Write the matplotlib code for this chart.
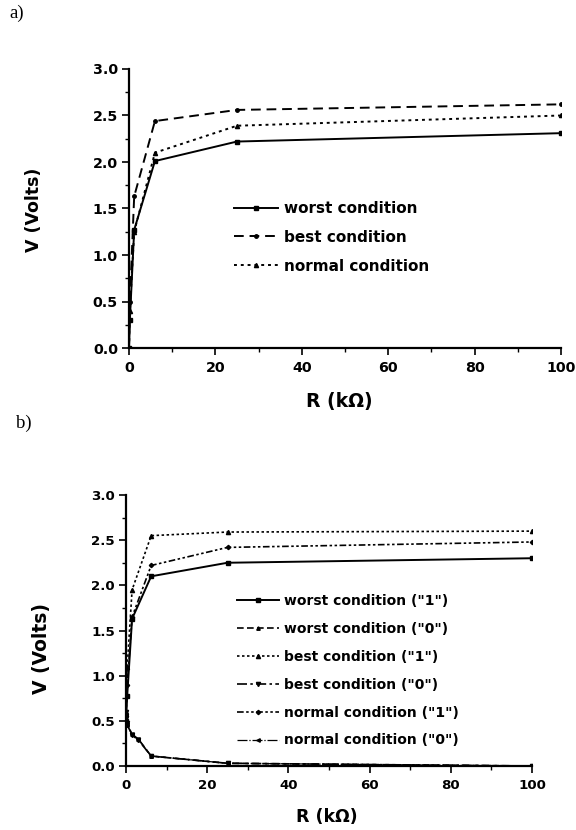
import matplotlib
matplotlib.use("Agg")
import matplotlib.pyplot as plt
from matplotlib.ticker import MultipleLocator

plt.rcParams['font.family'] = ['DejaVu Sans']

# ---- panel a data ----
R_a = [0, 0.2, 1.2, 6, 25, 100]
worst_a = [0.0, 0.3, 1.27, 2.01, 2.22, 2.31]
best_a = [0.0, 0.5, 1.63, 2.44, 2.56, 2.62]
normal_a = [0.0, 0.4, 1.25, 2.10, 2.39, 2.50]
labels_a = ["worst condition", "best condition", "normal condition"]

# ---- panel b data ----
R_b1 = [0, 0.3, 1.5, 6.2, 25, 100]
worst1_b = [0.50, 0.78, 1.63, 2.10, 2.25, 2.30]
best1_b = [0.60, 1.10, 1.95, 2.55, 2.59, 2.60]
normal1_b = [0.55, 0.90, 1.65, 2.22, 2.42, 2.48]
R_b0 = [0, 0.3, 1.5, 3, 6.2, 25, 100]
worst0_b = [0.55, 0.45, 0.35, 0.30, 0.11, 0.03, 0.00]
best0_b = [0.60, 0.48, 0.34, 0.29, 0.11, 0.03, 0.00]
normal0_b = [0.57, 0.46, 0.35, 0.30, 0.11, 0.03, 0.00]
labels_b = ['worst condition ("1")', 'worst condition ("0")', 'best condition ("1")',
            'best condition ("0")', 'normal condition ("1")', 'normal condition ("0")']

xticks = [0, 20, 40, 60, 80, 100]
yticks = [0.0, 0.5, 1.0, 1.5, 2.0, 2.5, 3.0]

W, H = 576, 830
fig = plt.figure(figsize=(W / 100, H / 100), dpi=100)

def px_axes(l, r, t, b):
    return fig.add_axes([l / W, 1 - b / H, (r - l) / W, (b - t) / H])

ax1 = px_axes(129, 561, 69, 348)
ax2 = px_axes(126, 532, 495, 766)

def style(ax, tsize):
    ax.set_xlim(0, 100)
    ax.set_ylim(0, 3.0)
    ax.spines['top'].set_visible(False)
    ax.spines['right'].set_visible(False)
    for s in ('left', 'bottom'):
        ax.spines[s].set_linewidth(1.6)
    ax.set_xticks(xticks)
    ax.set_yticks(yticks)
    ax.set_yticklabels([f"{v:.1f}" for v in yticks])
    ax.xaxis.set_minor_locator(MultipleLocator(10))
    ax.yaxis.set_minor_locator(MultipleLocator(0.25))
    ax.tick_params(which='major', direction='out', length=5, width=1.2,
                   labelsize=tsize)
    ax.tick_params(axis='x', which='major', pad=4)
    ax.tick_params(axis='y', which='major', pad=3)
    ax.tick_params(which='minor', direction='out', length=3, width=1.0)
    for lab in ax.get_xticklabels() + ax.get_yticklabels():
        lab.set_fontweight('bold')

ax1.plot(R_a, worst_a, color='black', lw=1.4, ls='-', marker='s', ms=2.5, label=labels_a[0])
ax1.plot(R_a, best_a, color='black', lw=1.4, ls=(0, (5, 3)), marker='o', ms=2.5, label=labels_a[1])
ax1.plot(R_a, normal_a, color='black', lw=1.4, ls=(0, (1.5, 2)), marker='^', ms=3, label=labels_a[2])
style(ax1, 10.3)
ax1.legend(loc='upper left', bbox_to_anchor=(234 / W, 1 - 201 / H), bbox_transform=fig.transFigure,
           frameon=False, borderpad=0, borderaxespad=0, handlelength=2.9,
           handletextpad=0.4, labelspacing=0.9, prop={'weight': 'bold', 'size': 11})

ax2.plot(R_b1, worst1_b, color='black', lw=1.4, ls='-', marker='s', ms=2.5, label=labels_b[0])
ax2.plot(R_b0, worst0_b, color='black', lw=1.2, ls=(0, (4, 2)), marker='^', ms=2.5, label=labels_b[1])
ax2.plot(R_b1, best1_b, color='black', lw=1.2, ls=(0, (1.5, 1.5)), marker='^', ms=3, label=labels_b[2])
ax2.plot(R_b0, best0_b, color='black', lw=1.2, ls=(0, (6, 2, 1.5, 2)), marker='v', ms=3, label=labels_b[3])
ax2.plot(R_b1, normal1_b, color='black', lw=1.2, ls=(0, (4, 1.5, 1.5, 1.5, 1.5, 1.5)), marker='D', ms=2.2, label=labels_b[4])
ax2.plot(R_b0, normal0_b, color='black', lw=0.9, ls=(0, (8, 1.5, 1, 1.5)), marker='<', ms=2.5, label=labels_b[5])
style(ax2, 9.6)
ax2.legend(loc='upper left', bbox_to_anchor=(237 / W, 1 - 594 / H), bbox_transform=fig.transFigure,
           frameon=False, borderpad=0, borderaxespad=0, handlelength=3.0,
           handletextpad=0.36, labelspacing=1.0, prop={'weight': 'bold', 'size': 10})

# axis labels
fig.text(339 / W, 1 - 401 / H, "R (kΩ)", fontsize=13.5, fontweight='bold', ha='center', va='center')
fig.text(34 / W, 1 - 210 / H, "V (Volts)", fontsize=12.5, fontweight='bold', ha='center', va='center', rotation=90)
fig.text(327 / W, 1 - 817 / H, "R (kΩ)", fontsize=12.5, fontweight='bold', ha='center', va='center')
fig.text(41 / W, 1 - 648 / H, "V (Volts)", fontsize=13.5, fontweight='bold', ha='center', va='center', rotation=90)

fig.text(17 / W, 1 - 13 / H, "a)", family='Liberation Serif', fontsize=13.5, va='center', ha='center')
fig.text(24 / W, 1 - 423 / H, "b)", family='Liberation Serif', fontsize=13.5, va='center', ha='center')

fig.savefig("out.png", dpi=100)
